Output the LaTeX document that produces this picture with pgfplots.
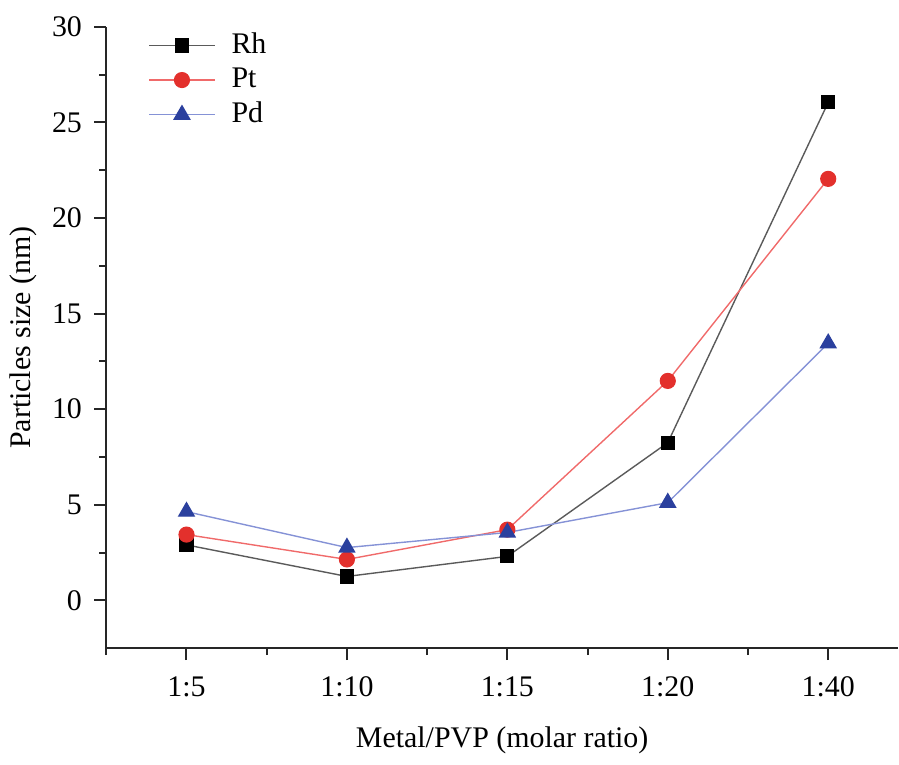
\documentclass[border=0pt]{standalone}
\usepackage{fontspec}
\setmainfont{Liberation Serif}
\usepackage{pgfplots}
\pgfplotsset{compat=1.18}

\definecolor{rhline}{HTML}{5A5A5A}
\definecolor{ptline}{HTML}{F06A6A}
\definecolor{ptmark}{HTML}{E3302C}
\definecolor{pdline}{HTML}{8592D6}
\definecolor{pdmark}{HTML}{2B409E}

\begin{document}
\fontsize{15}{18}\selectfont
\begin{tikzpicture}
\begin{axis}[
    scale only axis,
    width=397pt, height=311.5pt,
    xmin=-0.5, xmax=4.435,
    ymin=-2.5, ymax=30,
    axis x line*=bottom,
    axis y line*=left,
    axis line style={line width=1pt, black!85},
    xtick={0,1,2,3,4},
    xticklabels={1:5,1:10,1:15,1:20,1:40},
    minor xtick={-0.5,0.5,1.5,2.5,3.5},
    ytick={0,5,10,15,20,25,30},
    minor ytick={2.5,7.5,12.5,17.5,22.5,27.5},
    tick align=outside,
    major tick length=6pt,
    minor tick length=3.5pt,
    tick style={line width=1pt, black!85},
    /pgf/number format/assume math mode=true,
    xticklabel style={yshift=-3pt},
    yticklabel style={xshift=-1pt},
    xlabel={Metal/PVP (molar ratio)},
    ylabel={Particles size (nm)},
    xlabel style={at={(axis description cs:0.5,-0.149)}, anchor=center},
    ylabel style={at={(axis description cs:-0.1045,0.5)}, anchor=center},
    clip=false,
    legend style={draw=none, fill=none, at={(0.0451,1.004)}, anchor=north west,
        row sep=1pt, font=\fontsize{15}{18}\selectfont},
    legend cell align=left,
    legend image code/.code={
        \draw[#1, mark=none] (-22.5pt,0pt) -- (10.5pt,0pt);
        \draw[#1, only marks] plot coordinates {(-6pt,0pt)};
        \path (16.5pt,0pt);
    },
]
\addplot[rhline, line width=0.7pt, mark=square*, mark size=3.2pt,
    mark options={draw=black, fill=black}] coordinates {
    (0,2.9) (1,1.25) (2,2.3) (3,8.25) (4,26.05)
};
\addlegendentry{Rh}
\addplot[ptline, line width=0.7pt, mark=*, mark size=3.7pt,
    mark options={draw=ptmark, fill=ptmark}] coordinates {
    (0,3.44) (1,2.14) (2,3.7) (3,11.48) (4,22.05)
};
\addlegendentry{Pt}
\addplot[pdline, line width=0.7pt, mark=triangle*, mark size=4.4pt,
    mark options={draw=pdmark, fill=pdmark}] coordinates {
    (0,4.64) (1,2.76) (2,3.55) (3,5.11) (4,13.45)
};
\addlegendentry{Pd}
\end{axis}
\path ([xshift=-52.5pt,yshift=13.5pt]current axis.north west)
      ([yshift=-51.5pt]current axis.south east);
\end{tikzpicture}
\end{document}
